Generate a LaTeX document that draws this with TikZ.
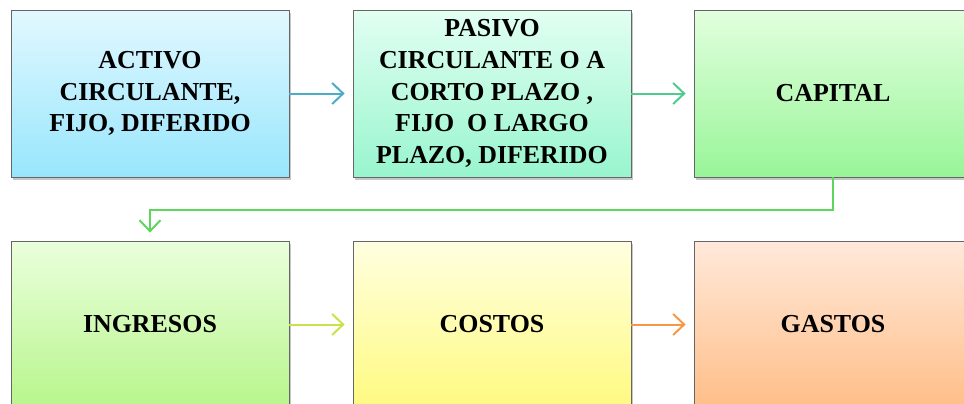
\documentclass[tikz,border=0pt]{standalone}
\usepackage{fontspec}
\setmainfont{Liberation Serif}
\usetikzlibrary{arrows.meta,shadows}

\definecolor{activotop}{HTML}{E2F8FF}
\definecolor{activobot}{HTML}{98E6FC}
\definecolor{pasivotop}{HTML}{E2FFF2}
\definecolor{pasivobot}{HTML}{98F5CE}
\definecolor{capitaltop}{HTML}{E2FFDE}
\definecolor{capitalbot}{HTML}{98F598}
\definecolor{ingresostop}{HTML}{EAFFDC}
\definecolor{ingresosbot}{HTML}{B8F58C}
\definecolor{costostop}{HTML}{FFFFE0}
\definecolor{costosbot}{HTML}{FFFA80}
\definecolor{gastostop}{HTML}{FFE9DA}
\definecolor{gastosbot}{HTML}{FFBE88}
\definecolor{flechaazul}{HTML}{4BACC6}
\definecolor{flechamar}{HTML}{4FCB8C}
\definecolor{flechaverde}{HTML}{5CD65C}
\definecolor{flechalima}{HTML}{C9E24A}
\definecolor{flechanaranja}{HTML}{F79646}

\begin{document}
\begin{tikzpicture}[
  cuenta/.style={draw=gray!80!black, line width=0.8pt, rectangle, minimum width=278bp, minimum height=167bp,
    inner sep=0pt, align=center, font=\bfseries\fontsize{26}{32}\selectfont,
    drop shadow={shadow xshift=2bp, shadow yshift=-3bp, opacity=0.45}},
  flecha/.style={line width=2bp, -{Straight Barb[length=11bp,width=21bp,line width=2bp]}}]

\path[use as bounding box, clip] (0bp,0bp) rectangle (964bp,-404bp);

\node (activo) at (150bp,-93.5bp)[cuenta, top color=activotop, bottom color=activobot] {ACTIVO\\CIRCULANTE,\\FIJO, DIFERIDO};
\node (pasivo) at (492bp,-93.5bp)[cuenta, top color=pasivotop, bottom color=pasivobot] {PASIVO\\CIRCULANTE O A\\CORTO PLAZO ,\\FIJO\ \ O LARGO\\PLAZO, DIFERIDO};
\node (capital) at (833bp,-93.5bp)[cuenta, top color=capitaltop, bottom color=capitalbot] {CAPITAL};
\node (ingresos) at (150bp,-324.5bp)[cuenta, top color=ingresostop, bottom color=ingresosbot] {INGRESOS};
\node (costos) at (492bp,-324.5bp)[cuenta, top color=costostop, bottom color=costosbot] {COSTOS};
\node (gastos) at (833bp,-324.5bp)[cuenta, top color=gastostop, bottom color=gastosbot] {GASTOS};

\draw [flecha, draw=flechaazul, shorten >=8bp] (activo) -- (pasivo);
\draw [flecha, draw=flechamar, shorten >=8bp] (pasivo) -- (capital);
\draw [flecha, draw=flechaverde, shorten >=8bp] (capital.south) -- ++(0,-33bp) -| (ingresos.north);
\draw [flecha, draw=flechalima, shorten >=8bp] (ingresos) -- (costos);
\draw [flecha, draw=flechanaranja, shorten >=8bp] (costos) -- (gastos);
\end{tikzpicture}
\end{document}
